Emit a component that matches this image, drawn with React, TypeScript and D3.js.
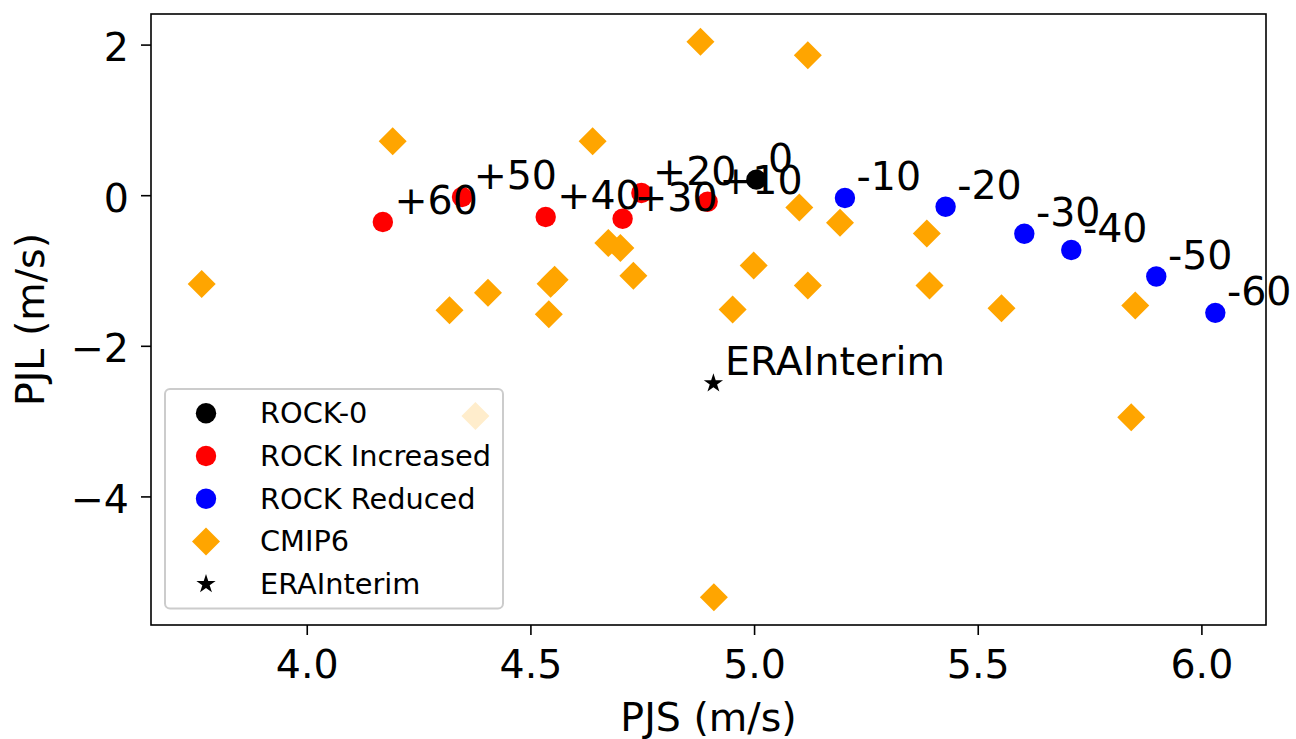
import React from 'react';
import * as d3 from 'd3';

// ROCK experiments (PJS, PJL)
const controlLabels = ['0'];
const controlX = [5.004];
const controlY = [0.213];

const increasedLabels = ['+10', '+20', '+30', '+40', '+50', '+60'];
const increasedX = [4.895, 4.747, 4.705, 4.533, 4.346, 4.169];
const increasedY = [-0.08, 0.036, -0.306, -0.283, -0.017, -0.35];

const reducedLabels = ['-10', '-20', '-30', '-40', '-50', '-60'];
const reducedX = [5.202, 5.427, 5.603, 5.708, 5.898, 6.03];
const reducedY = [-0.031, -0.146, -0.505, -0.722, -1.073, -1.556];

// CMIP6 models
const cmipX = [3.764, 4.191, 4.638, 4.879, 5.119, 4.673, 4.7, 4.729, 4.553, 4.544, 4.404, 4.318, 4.54, 4.998, 4.951,
  5.1, 5.191, 5.385, 5.119, 5.391, 5.552, 5.851, 4.376, 5.842, 4.909];
const cmipY = [-1.174, 0.722, 0.722, 2.044, 1.866, -0.629, -0.695, -1.064, -1.117, -1.17, -1.29, -1.52, -1.573, -0.927, -1.512,
  -0.156, -0.359, -0.501, -1.193, -1.193, -1.493, -1.459, -2.926, -2.943, -5.332];

const eraLabels = ['ERAInterim'];
const eraX = [4.908];
const eraY = [-2.491];

const legendLabels = ['ROCK-0', 'ROCK Increased', 'ROCK Reduced', 'CMIP6', 'ERAInterim'];

const W = 1296, H = 739;
const left = 151, right = 1266, top = 14, bottom = 625;
const font = 'DejaVu Sans, sans-serif';

function pad([lo, hi]: number[]) {
  const m = (hi - lo) * 0.05;
  return [lo - m, hi + m];
}

const allX = [...controlX, ...increasedX, ...reducedX, ...cmipX, ...eraX];
const allY = [...controlY, ...increasedY, ...reducedY, ...cmipY, ...eraY];

const x = d3.scaleLinear().domain(pad(d3.extent(allX) as number[])).range([left, right]);
const y = d3.scaleLinear().domain(pad(d3.extent(allY) as number[])).range([bottom, top]);

const star = d3.symbol().type(d3.symbolStar).size(115);
const diamond = (cx: number, cy: number, r = 14) =>
  `M${cx},${cy - r}L${cx + r},${cy}L${cx},${cy + r}L${cx - r},${cy}Z`;

// annotation offset in data units
const labelDx = 0.026, labelDy = 0.106;

export default function App() {
  const xTicks = x.ticks(5);
  const yTicks = y.ticks(4);
  const fx = d3.format('.1f');
  const fy = d3.format('d');

  const labels = [
    ...controlLabels.map((t, i) => [t, controlX[i], controlY[i]]),
    ...increasedLabels.map((t, i) => [t, increasedX[i], increasedY[i]]),
    ...reducedLabels.map((t, i) => [t, reducedX[i], reducedY[i]]),
    ...eraLabels.map((t, i) => [t, eraX[i], eraY[i]]),
  ] as [string, number, number][];

  const rowY = (i: number) => 413.3 + i * 42.7;

  return (
    <div style={{ position: 'absolute', left: 0, top: 0 }}>
      <svg width={W} height={H} style={{ display: 'block', background: '#fff' }} fontFamily={font}>
        {/* markers */}
        {controlX.map((d, i) => <circle key={'c' + i} cx={x(d)} cy={y(controlY[i])} r={10.2} fill="#000" />)}
        {increasedX.map((d, i) => <circle key={'r' + i} cx={x(d)} cy={y(increasedY[i])} r={10.2} fill="#ff0000" />)}
        {reducedX.map((d, i) => <circle key={'b' + i} cx={x(d)} cy={y(reducedY[i])} r={10.2} fill="#0000ff" />)}
        {cmipX.map((d, i) => <path key={'m' + i} d={diamond(x(d), y(cmipY[i]))} fill="#ffa500" />)}
        {eraX.map((d, i) => (
          <path key={'e' + i} d={star() as string} transform={`translate(${x(d)},${y(eraY[i])})`} fill="#000" />
        ))}

        {/* annotations */}
        {labels.map(([t, lx, ly], i) => (
          <text key={'t' + i} x={x(lx + labelDx)} y={y(ly + labelDy)} fontSize={39.5} fill="#000">{t}</text>
        ))}

        {/* legend */}
        <g>
          <rect x={165} y={389} width={338} height={219.5} rx={5} fill="#fff" fillOpacity={0.8} stroke="#cccccc" strokeWidth={2} />
          <circle cx={206} cy={rowY(0)} r={10.2} fill="#000" />
          <circle cx={206} cy={rowY(1)} r={10.2} fill="#ff0000" />
          <circle cx={206} cy={rowY(2)} r={10.2} fill="#0000ff" />
          <path d={diamond(206, rowY(3))} fill="#ffa500" />
          <path d={star() as string} transform={`translate(206,${rowY(4)})`} fill="#000" />
          {legendLabels.map((t, i) => (
            <text key={t} x={260} y={rowY(i) + 10} fontSize={28.8} fill="#000">{t}</text>
          ))}
        </g>

        {/* frame */}
        <rect x={left} y={top} width={right - left} height={bottom - top} fill="none" stroke="#000" strokeWidth={1.6} />

        {/* x axis */}
        {xTicks.map(t => (
          <g key={'xt' + t} transform={`translate(${x(t)},${bottom})`}>
            <line y2={10} stroke="#000" strokeWidth={1.6} />
            <text y={53} textAnchor="middle" fontSize={39.5} fill="#000">{fx(t)}</text>
          </g>
        ))}
        {/* y axis */}
        {yTicks.map(t => (
          <g key={'yt' + t} transform={`translate(${left},${y(t)})`}>
            <line x2={-10} stroke="#000" strokeWidth={1.6} />
            <text x={-22} y={16} textAnchor="end" fontSize={39.5} fill="#000">{fy(t)}</text>
          </g>
        ))}

        <text x={(left + right) / 2} y={731} textAnchor="middle" fontSize={39.5} fill="#000">PJS (m/s)</text>
        <text transform={`translate(44,${(top + bottom) / 2}) rotate(-90)`} textAnchor="middle" fontSize={39.5} fill="#000">PJL (m/s)</text>
      </svg>
    </div>
  );
}
